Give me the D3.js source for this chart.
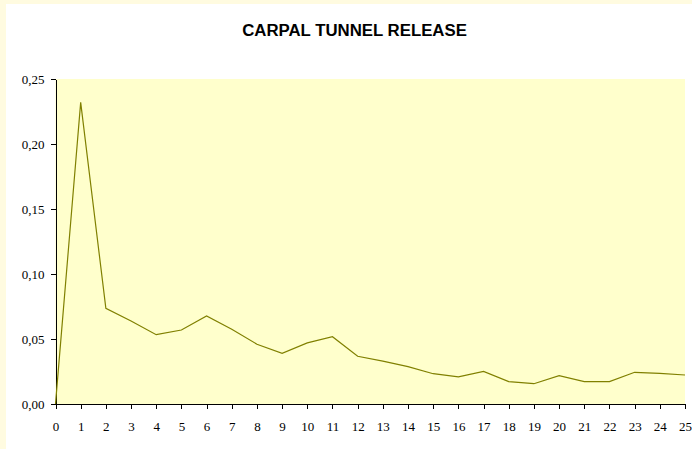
<!DOCTYPE html>
<html>
<head>
<meta charset="utf-8">
<script src="https://cdn.jsdelivr.net/npm/d3@7"></script>
<style>
	body{margin:0;background:#fffbe0;}
	svg{display:block;}
	.axis path,.axis line{stroke:#000;shape-rendering:crispEdges;}
</style>
</head>
<body>
<div id="chart"></div>
<script>
//Data
const title = 'CARPAL TUNNEL RELEASE';
const months = d3.range(0,26); //0..25
const rates = [0.000,0.232,0.0736,0.0638,0.0533,0.0569,0.0677,0.0575,0.046,0.039,
	0.047,0.0518,0.0367,0.033,0.0287,0.0233,0.0208,0.0251,0.0172,0.0156,
	0.0218,0.0172,0.0172,0.0244,0.0236,0.0223];
const yTicks = [0,0.05,0.10,0.15,0.20,0.25];

const width = 692, height = 449;
const margin = {t:79,r:7,b:45,l:55.5};
const w = width - margin.l - margin.r;
const h = height - margin.t - margin.b;

const svg = d3.select('#chart').append('svg')
	.attr('width',width)
	.attr('height',height);

//outer frame: pale border on top/left, white chart area
svg.append('rect')
	.attr('width',width).attr('height',height)
	.style('fill','#fffbe0');
svg.append('rect')
	.attr('x',6).attr('y',4)
	.attr('width',width-6).attr('height',height-4)
	.style('fill','#fff');

svg.append('text')
	.attr('x',354.5).attr('y',36)
	.attr('text-anchor','middle')
	.style('font-family','"Liberation Sans",Arial,sans-serif')
	.style('font-weight','bold')
	.style('font-size','16.8px')
	.text(title);

const plot = svg.append('g')
	.attr('transform',`translate(${margin.l},${margin.t})`);

//scales
const scaleX = d3.scaleLinear().domain([0,25]).range([0,w]);
const scaleY = d3.scaleLinear().domain([0,0.25]).range([h,0]);

plot.append('rect')
	.attr('width',w).attr('height',h)
	.style('fill','#ffffcc');

//axes
const axisX = d3.axisBottom(scaleX)
	.tickValues(months)
	.tickSize(5)
	.tickPadding(13)
	.tickSizeOuter(0)
	.tickFormat(d3.format('d'));
const axisY = d3.axisLeft(scaleY)
	.tickValues(yTicks)
	.tickSize(5)
	.tickPadding(6)
	.tickSizeOuter(0)
	.tickFormat(d => d3.format('.2f')(d).replace('.',','));

plot.append('g')
	.attr('class','axis axis-x')
	.attr('transform',`translate(0,${h})`)
	.call(axisX);
plot.append('g')
	.attr('class','axis axis-y')
	.call(axisY);

plot.selectAll('.axis text')
	.style('font-family','"Liberation Serif","Times New Roman",serif')
	.style('font-size','13px')
	.style('fill','#000');

//line
const line = d3.line()
	.x((d,i) => scaleX(months[i]))
	.y(d => scaleY(d));
plot.append('path')
	.datum(rates)
	.attr('d',line)
	.style('fill','none')
	.style('stroke','#808000')
	.style('stroke-width',1.2);
</script>
</body>
</html>
